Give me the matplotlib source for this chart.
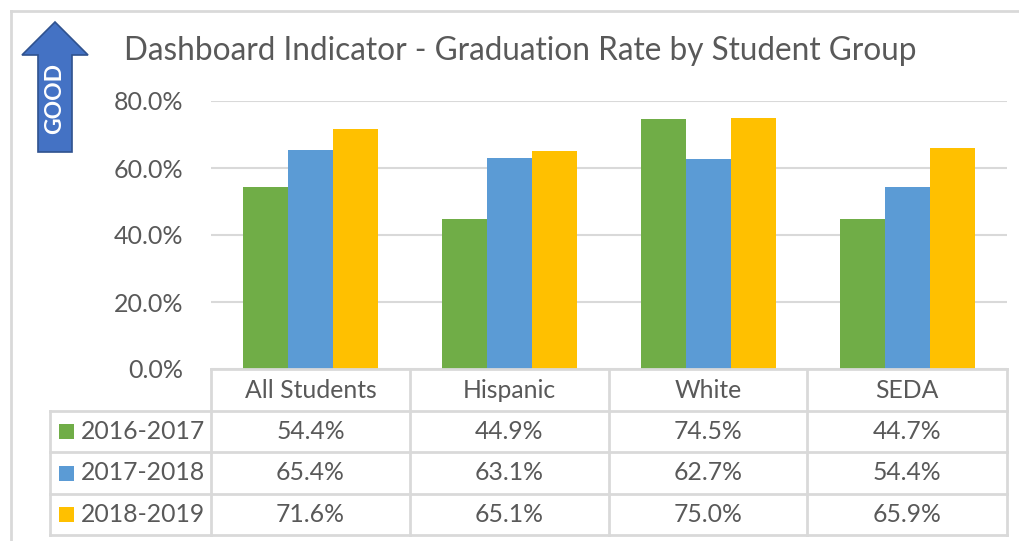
import matplotlib
matplotlib.use("Agg")
import matplotlib.pyplot as plt
from matplotlib.patches import Polygon, Rectangle
from matplotlib.lines import Line2D

categories = ["All Students", "Hispanic", "White", "SEDA"]
series_names = ["2016-2017", "2017-2018", "2018-2019"]
vals_2016_2017 = [54.4, 44.9, 74.5, 44.7]
vals_2017_2018 = [65.4, 63.1, 62.7, 54.4]
vals_2018_2019 = [71.6, 65.1, 75.0, 65.9]
series_values = [vals_2016_2017, vals_2017_2018, vals_2018_2019]
colors = ["#70AD47", "#5B9BD5", "#FFC000"]
yticks = [0, 20, 40, 60, 80]
title = "Dashboard Indicator - Graduation Rate by Student Group"

FONT = "Lato"
TXT = "#595959"
GRID = "#D9D9D9"
W, H = 1020, 541

plt.rcParams["font.family"] = [FONT, "DejaVu Sans"]

fig = plt.figure(figsize=(W / 100, H / 100), dpi=100)


def fx(x):
    return x / W


def fy(y):
    return 1 - y / H


# axes
ax_l, ax_r, ax_t, ax_b = 211, 1007, 101, 369
ax = fig.add_axes([fx(ax_l), fy(ax_b), fx(ax_r - ax_l), (ax_b - ax_t) / H])
n = len(categories)
bw = 0.225
for i, (vals, c) in enumerate(zip(series_values, colors)):
    xs = [k + (i - 1) * bw for k in range(n)]
    ax.bar(xs, vals, width=bw, color=c, zorder=3)
ax.set_xlim(-0.5, n - 0.5)
ax.set_ylim(0, 80)
ax.set_yticks(yticks)
ax.set_yticklabels([f"{v:.1f}%" for v in yticks], fontsize=18, color=TXT)
ax.tick_params(axis="y", length=0, pad=20)
ax.set_xticks([])
for s in ax.spines.values():
    s.set_visible(False)
ax.grid(axis="y", color=GRID, linewidth=1.5, zorder=0)
ax.set_axisbelow(True)

# title
fig.text(fx(520), fy(51), title, ha="center", va="center", fontsize=22.7, color=TXT)

# outer frame
fig.add_artist(Line2D([fx(11), 1], [fy(11), fy(11)], color=GRID, lw=2))
fig.add_artist(Line2D([fx(11), fx(11)], [fy(11), 0], color=GRID, lw=2))

# GOOD arrow
arrow_pts = [(22, 55), (55, 22), (88, 55), (72, 55), (72, 152), (38, 152), (38, 55)]
fig.add_artist(Polygon([(fx(x), fy(y)) for x, y in arrow_pts], closed=True,
                       facecolor="#4472C4", edgecolor="#2F528F", lw=1.2,
                       transform=fig.transFigure))
fig.text(fx(55), fy(99), "GOOD", rotation=90, ha="center", va="center",
         color="white", fontsize=16.5, fontweight="bold")

# data table
row_lines = [369, 411, 452, 494, 535]
col_lines = [50, 211, 410, 609, 807, 1007]
lw_t = 2
fig.add_artist(Line2D([fx(211), fx(1007)], [fy(369), fy(369)], color=GRID, lw=lw_t))
for y in row_lines[1:]:
    fig.add_artist(Line2D([fx(50), fx(1007)], [fy(y), fy(y)], color=GRID, lw=lw_t))
fig.add_artist(Line2D([fx(50), fx(50)], [fy(411), fy(535)], color=GRID, lw=lw_t))
for x in col_lines[1:]:
    fig.add_artist(Line2D([fx(x), fx(x)], [fy(369), fy(535)], color=GRID, lw=lw_t))

TS = 17.8
for k, cat in enumerate(categories):
    cx = (col_lines[k + 1] + col_lines[k + 2]) / 2
    fig.text(fx(cx), fy(390), cat, ha="center", va="center", fontsize=TS, color=TXT)
for r, (name, vals, c) in enumerate(zip(series_names, series_values, colors)):
    cy = (row_lines[r + 1] + row_lines[r + 2]) / 2
    fig.add_artist(Rectangle((fx(59), fy(cy + 7.5)), fx(15), 15 / H, facecolor=c,
                             edgecolor="none", transform=fig.transFigure))
    fig.text(fx(81), fy(cy), name, ha="left", va="center", fontsize=TS, color=TXT)
    for k, v in enumerate(vals):
        cx = (col_lines[k + 1] + col_lines[k + 2]) / 2
        fig.text(fx(cx), fy(cy), f"{v:.1f}%", ha="center", va="center", fontsize=TS, color=TXT)

fig.savefig("out.png", dpi=100, facecolor="white")
